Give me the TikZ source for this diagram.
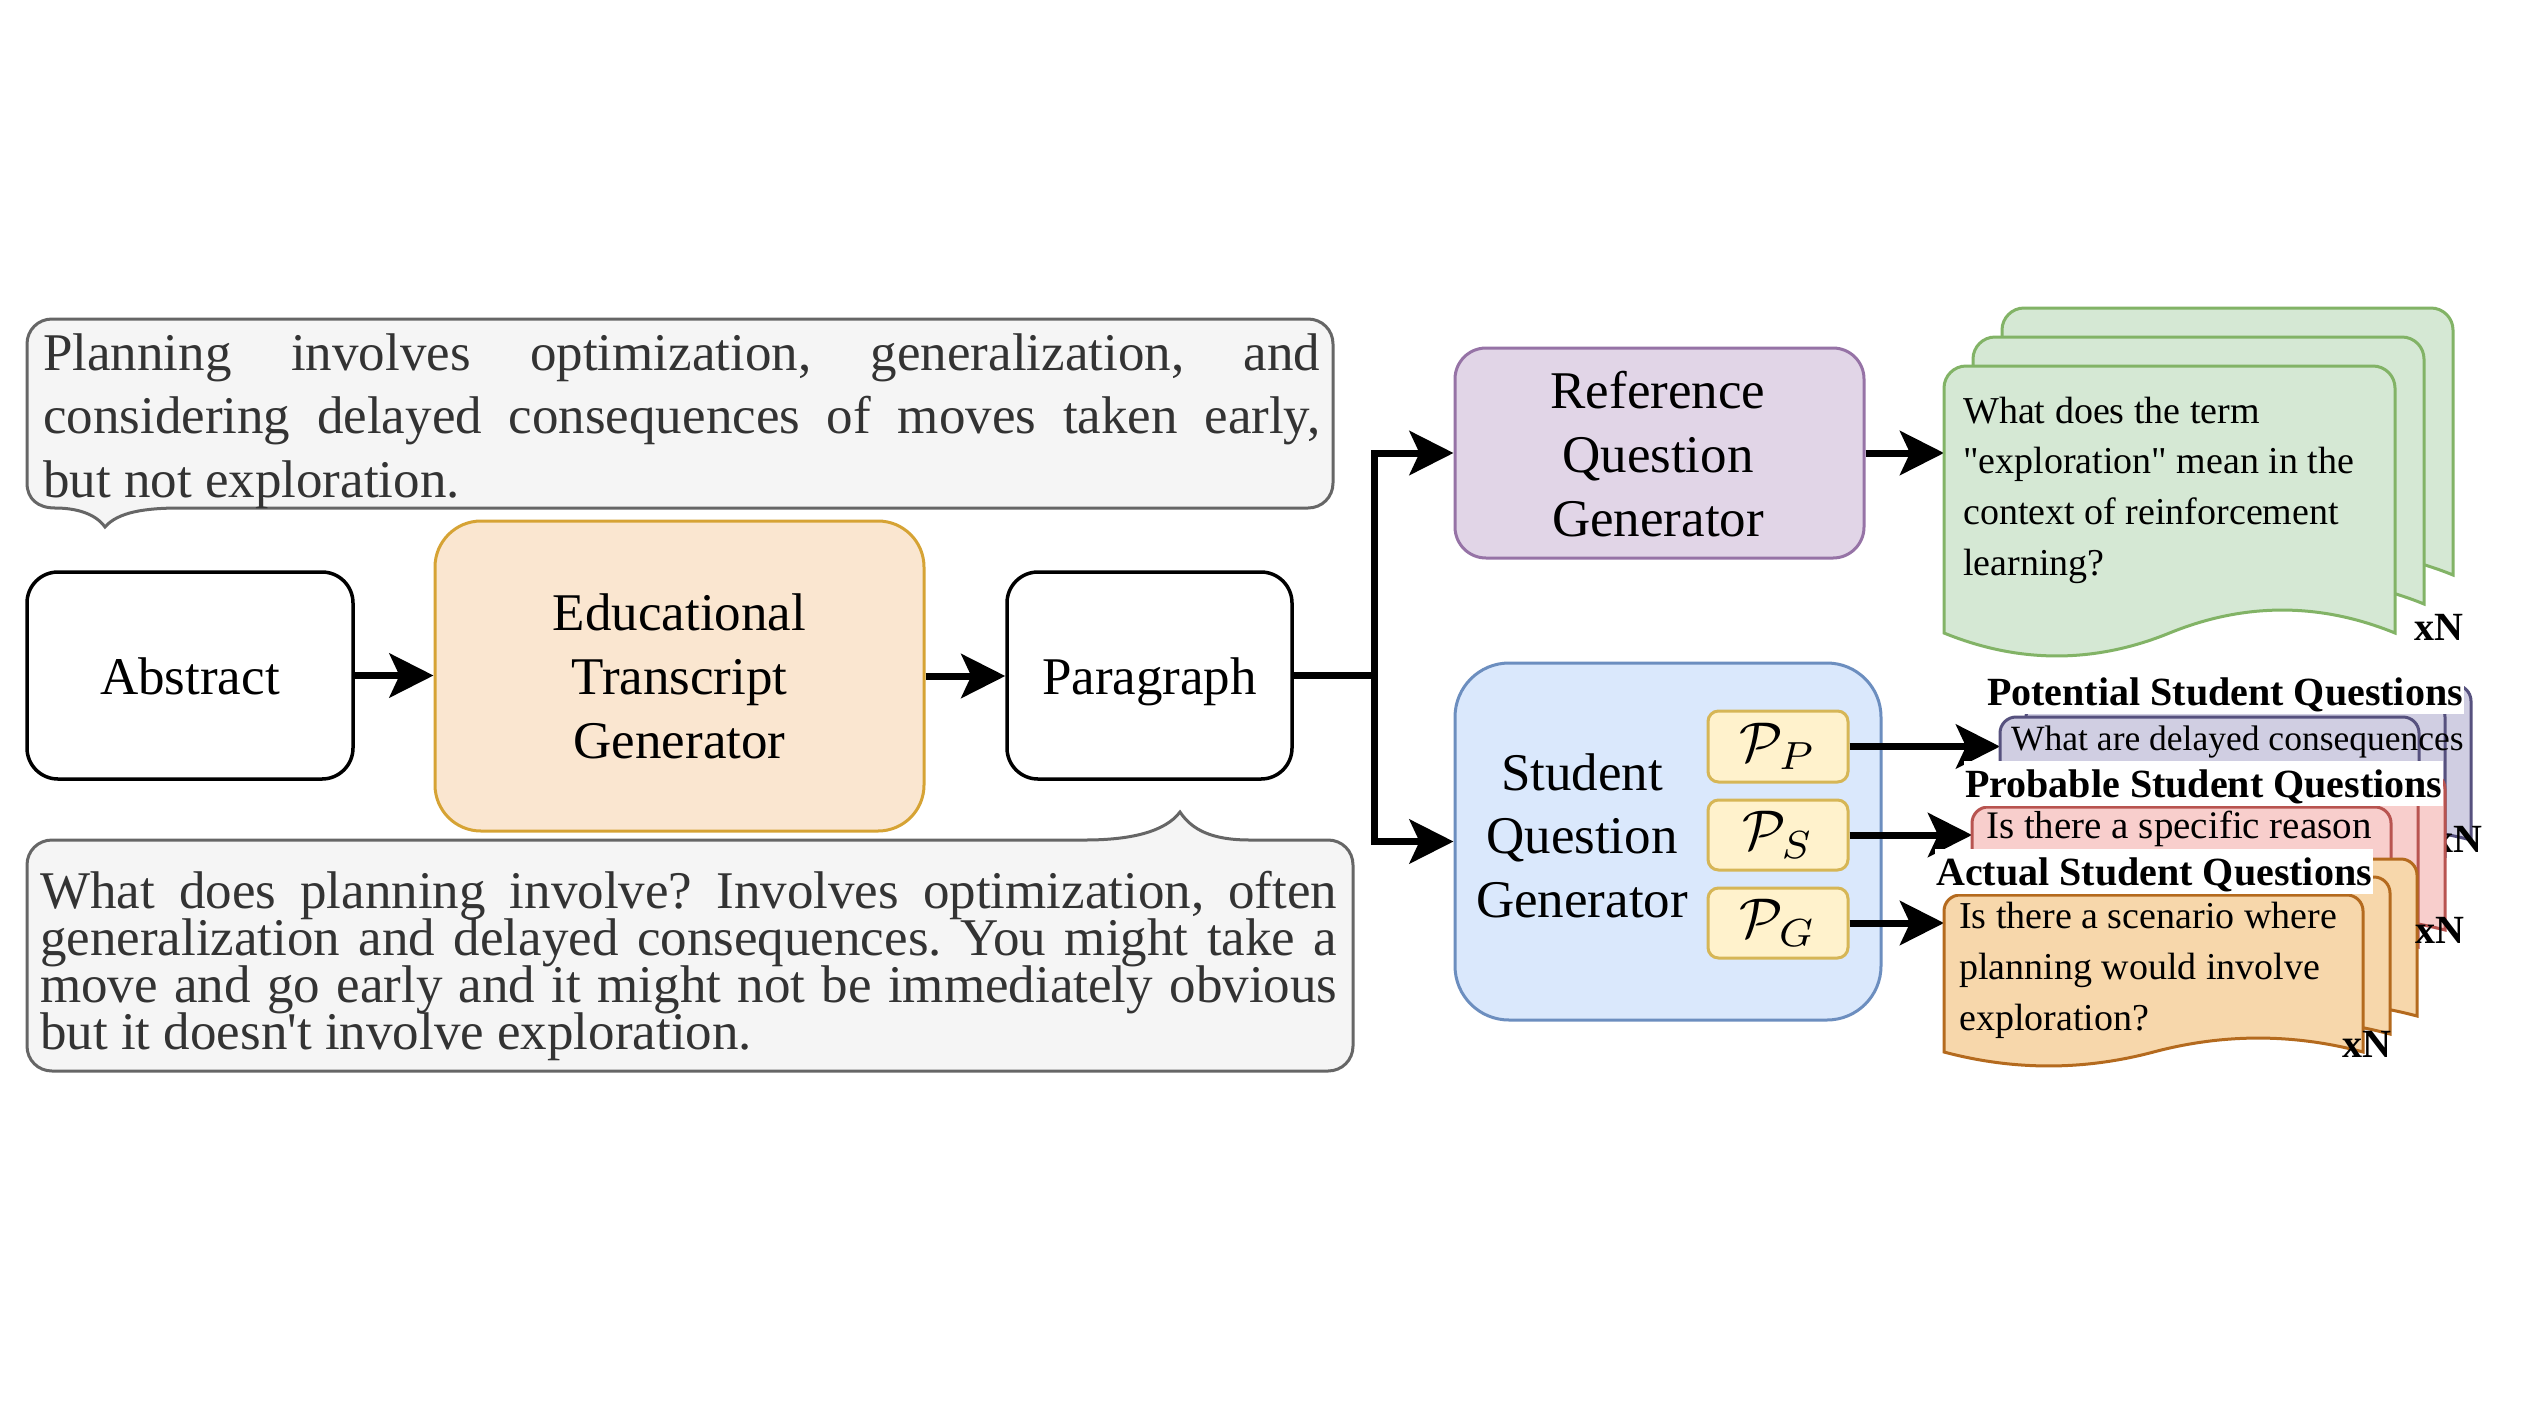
\documentclass[tikz,border=0pt]{standalone}
\usepackage{graphicx}
\usepackage{fontspec}
\setmainfont{Liberation Serif}
\usetikzlibrary{arrows.meta}
\frenchspacing
\font\sqA="Liberation Serif" at 38pt
\font\sqB="Liberation Serif" at 53pt
\definecolor{bubfill}{HTML}{F5F5F5}
\definecolor{bubdraw}{HTML}{666666}
\definecolor{bubtext}{HTML}{333333}
\definecolor{etgfill}{HTML}{FAE6D0}
\definecolor{etgdraw}{HTML}{D6A334}
\definecolor{rqfill}{HTML}{E1D5E7}
\definecolor{rqdraw}{HTML}{9673A6}
\definecolor{sqfill}{HTML}{DAE8FC}
\definecolor{sqdraw}{HTML}{6C8EBF}
\definecolor{pfill}{HTML}{FFF2CC}
\definecolor{pdraw}{HTML}{D6B656}
\definecolor{gfill}{HTML}{D5E8D4}
\definecolor{gdraw}{HTML}{82B366}
\definecolor{vfill}{HTML}{D0CEE2}
\definecolor{vdraw}{HTML}{56517E}
\definecolor{rfill}{HTML}{F8CECC}
\definecolor{rdraw}{HTML}{B85450}
\definecolor{ofill}{HTML}{F7D7AB}
\definecolor{odraw}{HTML}{B46A1E}
\newcommand{\qdoc}[7]{%
  \path[#1] ({#2},{#5}) -- ({#2},{#3+#7})
    .. controls ({#2},{#3+0.45*#7}) and ({#2+0.45*#7},{#3}) .. ({#2+#7},{#3})
    -- ({#2+#4-#7},{#3})
    .. controls ({#2+#4-0.45*#7},{#3}) and ({#2+#4},{#3+0.45*#7}) .. ({#2+#4},{#3+#7})
    -- ({#2+#4},{#5})
    .. controls ({#2+#4*5/6},{#5-0.6*#6}) and ({#2+#4*2/3},{#5-0.6*#6}) .. ({#2+#4/2},{#5})
    .. controls ({#2+#4/3},{#5+0.6*#6}) and ({#2+#4/6},{#5+0.6*#6}) .. ({#2},{#5})
    -- cycle;}
\begin{document}
\frenchspacing
\begin{tikzpicture}[x=1pt,y=-1pt,
  box/.style={draw, line width=3.5pt, inner sep=0pt},
  conn/.style={line width=7pt, -{Stealth[length=44pt,width=44pt,inset=10pt]}},
  plainline/.style={line width=7pt},
  txt/.style={inner sep=0pt, anchor=base, font=\fontsize{53pt}{64pt}\selectfont},
  txtl/.style={inner sep=0pt, anchor=base west},
  xn/.style={inner sep=0pt, anchor=base west, font=\bfseries\fontsize{40pt}{48pt}\selectfont},
  qlabel/.style={fill=white, inner xsep=1pt, inner ysep=0pt, text height=36pt, text depth=9pt, anchor=base west, font=\bfseries\fontsize{40pt}{48pt}\selectfont},
  bubble/.style={draw=bubdraw, fill=bubfill, line width=3pt},
  docg/.style={draw=gdraw, fill=gfill, line width=3pt},
  docv/.style={draw=vdraw, fill=vfill, line width=3pt},
  docr/.style={draw=rdraw, fill=rfill, line width=3pt},
  doco/.style={draw=odraw, fill=ofill, line width=3pt},
  pbox/.style={draw=pdraw, fill=pfill, line width=3pt, inner sep=0pt, minimum width=140pt, rounded corners=10.5pt}
]
\path[fill=white] (0,0) rectangle (2530,1422);
\useasboundingbox (0,0) rectangle (2530,1422);

% ---- speech bubbles ----
\path[bubble] (52,319) -- (1308,319) .. controls (1322,319) and (1333,330) .. (1333,344)
  -- (1333,483) .. controls (1333,497) and (1322,508) .. (1308,508)
  -- (180,508) .. controls (145,508) and (118,512) .. (105,527)
  .. controls (95,513) and (75,508) .. (55,508)
  .. controls (38,508) and (27,499) .. (27,483)
  -- (27,344) .. controls (27,330) and (38,319) .. (52,319) -- cycle;
\node[txtl, text=bubtext, font=\fontsize{53pt}{63.5pt}\selectfont] (toptext) at (43,370)
 {\parbox[t]{1277pt}{\lineskiplimit=-100pt\frenchspacing
 \makebox[\linewidth][s]{Planning involves optimization, generalization, and}\par
 \makebox[\linewidth][s]{considering delayed consequences of moves taken early,}\par
 but not exploration.}};

\path[bubble] (52,840) -- (1085,840) .. controls (1130,840) and (1165,832) .. (1180,812)
  .. controls (1192,830) and (1212,840) .. (1250,840)
  -- (1328,840) .. controls (1342,840) and (1353,851) .. (1353,865)
  -- (1353,1046) .. controls (1353,1060) and (1342,1071) .. (1328,1071)
  -- (52,1071) .. controls (38,1071) and (27,1060) .. (27,1046)
  -- (27,865) .. controls (27,851) and (38,840) .. (52,840) -- cycle;
\node[txtl, text=bubtext, font=\fontsize{53pt}{47.3pt}\selectfont] (bottext) at (40,908)
 {\parbox[t]{1297pt}{\lineskiplimit=-100pt\frenchspacing
 \makebox[\linewidth][s]{What does planning involve? Involves optimization, often}\par
 \makebox[\linewidth][s]{generalization and delayed consequences. You might take a}\par
 \makebox[\linewidth][s]{move and go early and it might not be immediately obvious}\par
 but it doesn{\sqB\char39}t involve exploration.}};

% ---- main boxes ----
\node[box, fill=white, minimum width=326pt, minimum height=207pt, rounded corners=31pt] (abs) at (190,675.5) {};
\node[txt] (abst) at (190,694) {Abstract};
\node[box, draw=etgdraw, fill=etgfill, line width=3pt, minimum width=489pt, minimum height=310pt, rounded corners=46pt] (etg) at (679.5,676) {};
\node[txtl, anchor=base] (etgt) at (679.5,630) {\parbox[t]{480pt}{\centering\fontsize{53pt}{64pt}\selectfont Educational\\Transcript\\Generator}};
\node[box, fill=white, minimum width=285pt, minimum height=207pt, rounded corners=31pt] (par) at (1149.5,675.5) {};
\node[txt] (part) at (1149.5,694) {Paragraph};

\node[box, draw=rqdraw, fill=rqfill, line width=3pt, minimum width=409pt, minimum height=210pt, rounded corners=31pt] (rqg) at (1659.5,453) {};
\node[txtl, anchor=base] (rqgt) at (1658,408) {\parbox[t]{400pt}{\centering\fontsize{53pt}{64.3pt}\selectfont Reference\\Question\\Generator}};
\node[box, draw=sqdraw, fill=sqfill, line width=3pt, minimum width=426pt, minimum height=357pt, rounded corners=54pt] (sqg) at (1668,841.5) {};
\node[txtl, anchor=base] (sqgt) at (1582,790) {\parbox[t]{240pt}{\centering\fontsize{53pt}{63.5pt}\selectfont Student\\Question\\Generator}};

\node[pbox, minimum height=71pt] (pp) at (1778,746.5) {\scalebox{5.6}{$\mathcal{P}_P$}};
\node[pbox, minimum height=70pt] (ps) at (1778,835) {\scalebox{5.6}{$\mathcal{P}_S$}};
\node[pbox, minimum height=70pt] (pg) at (1778,923) {\scalebox{5.6}{$\mathcal{P}_G$}};

% ---- connectors ----
\coordinate (jn) at (1374,675.5);
\coordinate (gin) at (1944,453);
\coordinate (vin) at (2000,746.5);
\coordinate (rin) at (1972,835);
\coordinate (oin) at (1944,923);
\draw[conn] (abs.east) -- (abs.east -| etg.west);
\draw[conn] (etg.east) -- (etg.east -| par.west);
\draw[plainline] (par.east) -- (jn);
\draw[conn] (jn) |- (rqg.west);
\draw[conn] (jn) |- (sqg.west);
\draw[conn] (rqg.east) -- (gin);
\draw[conn] (pp.east) -- (vin);
\draw[conn] (ps.east) -- (rin);
\draw[conn] (pg.east) -- (oin);

% ---- green documents ----
\qdoc{docg}{2002}{308}{451}{575}{51}{22}
\qdoc{docg}{1973}{337}{451}{604}{51}{22}
\qdoc{docg}{1944}{366}{451}{633}{51}{22}
\node[txtl, font=\fontsize{38pt}{50.7pt}\selectfont] (gtxt) at (1963,423)
 {\parbox[t]{480pt}{What does the term\\{\sqA\char34}exploration{\sqA\char34} mean in the\\context of reinforcement\\learning?}};
\node[xn] (gxn) at (2414,640) {xN};

% ---- purple documents ----
\qdoc{docv}{2052}{685}{419}{840}{30}{16}
\qdoc{docv}{2026}{701}{419}{856}{30}{16}
\qdoc{docv}{2000}{717}{419}{872}{30}{16}
\node[txtl, font=\fontsize{35.5pt}{42pt}\selectfont] (vtxt) at (2011,750) {What are delayed consequences};
\node[xn] (vxn) at (2433,852) {xN};
\node[qlabel] (vlab) at (1986,705) {Potential Student Questions};

% ---- red documents ----
\qdoc{docr}{2026}{773}{419}{930}{30}{16}
\qdoc{docr}{1999}{790}{419}{947}{30}{16}
\qdoc{docr}{1972}{807}{419}{964}{30}{16}
\node[txtl, font=\fontsize{39pt}{46pt}\selectfont] (rtxt) at (1986,838) {Is there a specific reason};
\node[qlabel] (rlab) at (1964,797) {Probable Student Questions};

% ---- orange documents ----
\qdoc{doco}{1998}{859}{419}{1016}{31}{16}
\qdoc{doco}{1971}{877}{419}{1034}{31}{16}
\qdoc{doco}{1944}{895}{419}{1052}{31}{16}
\node[txtl, font=\fontsize{38pt}{51pt}\selectfont] (otxt) at (1959,928)
 {\parbox[t]{480pt}{Is there a scenario where\\planning would involve\\exploration?}};
\node[qlabel] (olab) at (1935,885) {Actual Student Questions};
\node[xn] (oxn) at (2342,1057) {xN};
\node[xn] (rxn) at (2415,943) {xN};
\end{tikzpicture}
\end{document}
